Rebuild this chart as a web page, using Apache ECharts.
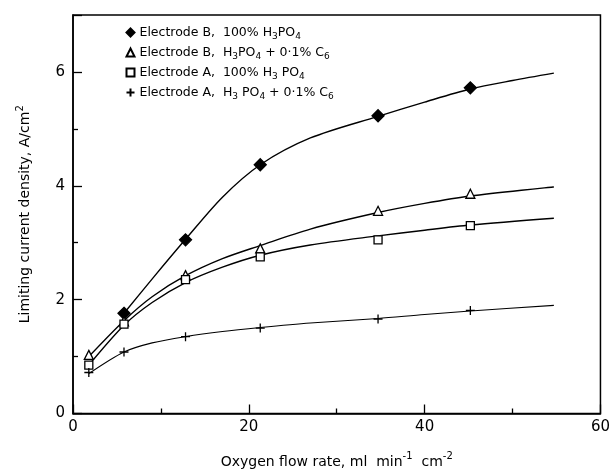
<!DOCTYPE html>
<html>
<head>
<meta charset="utf-8">
<script src="https://cdn.jsdelivr.net/npm/echarts@6/dist/echarts.min.js"></script>
<style>
  html, body { margin: 0; padding: 0; background: #fff; }
  #main { width: 613px; height: 474px; }
</style>
</head>
<body>
<div id="main"></div>
<script>
// measured points [flow rate, current density]
var bAcid = [[5.8, 1.76], [12.8, 3.05], [21.3, 4.37], [34.7, 5.23], [45.2, 5.72]];
var bAdd = [[1.8, 1.03], [5.8, 1.62], [12.8, 2.43], [21.3, 2.9], [34.7, 3.56], [45.2, 3.86]];
var aAcid = [[1.8, 0.85], [5.8, 1.57], [12.8, 2.35], [21.3, 2.75], [34.7, 3.05], [45.2, 3.3]];
var aAdd = [[1.8, 0.72], [5.8, 1.08], [12.8, 1.35], [21.3, 1.5], [34.7, 1.66], [45.2, 1.81]];

// hand drawn fitted curves
var bAcidCurve = [[5.8, 1.76], [9.2, 2.4], [12.8, 3.06], [17, 3.8], [21.3, 4.37], [27, 4.84], [34.7, 5.22], [40, 5.47], [45.2, 5.7], [50, 5.85], [54.7, 5.98]];
var bAddCurve = [[1.8, 1.0], [5.8, 1.63], [9, 2.05], [12.8, 2.42], [17, 2.72], [21.3, 2.95], [27, 3.24], [34.7, 3.53], [40, 3.69], [45.2, 3.82], [54.7, 3.98]];
var aAcidCurve = [[1.8, 0.85], [5.8, 1.55], [9, 1.95], [12.8, 2.3], [17, 2.57], [21.3, 2.78], [27, 2.96], [34.7, 3.12], [40, 3.22], [45.2, 3.31], [54.7, 3.43]];
var aAddCurve = [[1.8, 0.7], [5.8, 1.08], [9, 1.24], [12.8, 1.35], [17, 1.44], [21.3, 1.51], [27, 1.59], [34.7, 1.67], [40, 1.74], [45.2, 1.8], [54.7, 1.9]];

var xTicks = [0, 20, 40, 60];
var yTicks = [0, 2, 4, 6];

var names = ['bAcid', 'bAdd', 'aAcid', 'aAdd'];
var labels = {
    bAcid: 'Electrode B,  100% H{sub|3}PO{sub|4}',
    bAdd: 'Electrode B,  H{sub|3}PO{sub|4} + 0·1% C{sub|6}',
    aAcid: 'Electrode A,  100% H{sub|3} PO{sub|4}',
    aAdd: 'Electrode A,  H{sub|3} PO{sub|4} + 0·1% C{sub|6}'
};

var font = 'DejaVu Sans';
var plus = 'path://M5 0 L5 10 M0 5 L10 5';

function curve(data, w) {
    return {
        type: 'line', data: data, smooth: 0.3, symbol: 'none', silent: true,
        lineStyle: { color: '#000', width: w }, z: 2
    };
}
function pts(name, data, symbol, size, fill) {
    return {
        name: name, type: 'scatter', data: data, symbol: symbol, symbolSize: size, z: 3,
        itemStyle: { color: fill, borderColor: '#000', borderWidth: 1.3, opacity: 1 }
    };
}

var chart = echarts.init(document.getElementById('main'));
chart.setOption({
    animation: false,
    backgroundColor: '#fff',
    grid: { left: 73, right: 8, top: 15, bottom: 56, show: true, borderColor: '#000', borderWidth: 1.5 },
    legend: {
        data: names,
        orient: 'vertical', left: 119, top: 21, itemGap: 5,
        itemWidth: 8, itemHeight: 8,
        formatter: function (n) { return labels[n]; },
        textStyle: {
            fontFamily: font, fontSize: 12.5, color: '#000',
            rich: { sub: { fontFamily: font, fontSize: 9, color: '#000', padding: [8, 0, 0, 0] } }
        }
    },
    xAxis: {
        type: 'value', min: 0, max: 60, interval: 20,
        name: 'Oxygen flow rate, ml  min{sup|-1}  cm{sup|-2}',
        nameLocation: 'middle', nameGap: 38,
        nameTextStyle: {
            fontFamily: font, fontSize: 14, color: '#000',
            rich: { sup: { fontFamily: font, fontSize: 10, color: '#000', padding: [0, 0, 11, 0] } }
        },
        axisLine: { lineStyle: { color: '#000', width: 1.5 } },
        axisTick: { inside: true, length: 9, lineStyle: { color: '#000', width: 1.3 } },
        minorTick: { show: true, splitNumber: 2, length: 5, lineStyle: { color: '#000', width: 1.3 } },
        splitLine: { show: false },
        axisLabel: {
            margin: 6, fontFamily: font, fontSize: 15, color: '#000',
            formatter: function (v) { return xTicks.indexOf(v) >= 0 ? v : ''; }
        }
    },
    yAxis: {
        type: 'value', min: 0, max: 7, interval: 2,
        name: 'Limiting current density, A/cm{sup|2}',
        nameLocation: 'middle', nameGap: 37,
        nameTextStyle: {
            fontFamily: font, fontSize: 14, color: '#000',
            rich: { sup: { fontFamily: font, fontSize: 10, color: '#000', padding: [0, 0, 11, 0] } }
        },
        axisLine: { lineStyle: { color: '#000', width: 1.5 } },
        axisTick: { inside: true, length: 9, lineStyle: { color: '#000', width: 1.3 } },
        minorTick: { show: true, splitNumber: 2, length: 5, lineStyle: { color: '#000', width: 1.3 } },
        splitLine: { show: false },
        axisLabel: {
            margin: 8, fontFamily: font, fontSize: 15, color: '#000',
            formatter: function (v) { return yTicks.indexOf(v) >= 0 ? v : ''; }
        }
    },
    series: [
        curve(bAcidCurve, 1.4),
        curve(bAddCurve, 1.4),
        curve(aAcidCurve, 1.4),
        curve(aAddCurve, 1.1),
        pts('bAcid', bAcid, 'diamond', 12, '#000'),
        pts('bAdd', bAdd, 'triangle', 9, '#fff'),
        pts('aAcid', aAcid, 'rect', 8, '#fff'),
        pts('aAdd', aAdd, plus, 9, 'none')
    ]
});
</script>
</body>
</html>
